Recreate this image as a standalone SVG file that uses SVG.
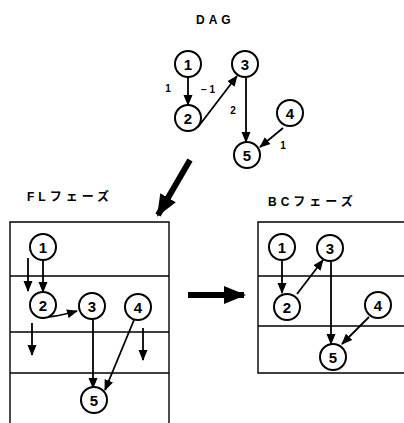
<svg xmlns="http://www.w3.org/2000/svg" width="404" height="423" viewBox="0 0 404 423">
<style>
.nd circle{fill:#fff;stroke:#000;stroke-width:2}
.nd text{font-family:"Liberation Sans",Arial,sans-serif;font-size:15px;fill:#000;text-anchor:middle;font-weight:bold}
.e{stroke:#000;stroke-width:1.8;fill:none;marker-end:url(#ah)}
.lbl{font-family:"Liberation Sans",Arial,sans-serif;font-size:10px;font-weight:bold;fill:#000;text-anchor:middle}
.ttl{font-family:"Liberation Sans","Noto Sans CJK JP",sans-serif;font-size:12px;font-weight:bold;fill:#000;letter-spacing:4px}
.grid{stroke:#000;stroke-width:1.4;fill:none}
.big{stroke:#000;stroke-width:6;fill:none;marker-end:url(#bh)}
</style>
<defs>
<marker id="ah" markerUnits="userSpaceOnUse" markerWidth="11" markerHeight="10" viewBox="0 0 11 10" refX="10" refY="5" orient="auto">
<path d="M0,0.5 L11,5 L0,9.5 Z" fill="#000"/>
</marker>
<marker id="bh" markerUnits="userSpaceOnUse" markerWidth="22" markerHeight="20" viewBox="0 0 22 20" refX="20" refY="10" orient="auto">
<path d="M0,1 L22,10 L0,19 Z" fill="#000"/>
</marker>
</defs>

<text class="ttl" x="196" y="24">DAG</text>
<text class="ttl" x="27" y="201">FLフェーズ</text>
<text class="ttl" x="268" y="206">BCフェーズ</text>

<g id="grid-fl">
<path class="grid" d="M10,423 V222 H169 V423 M10,276 H169 M10,332 H169 M10,373 H169"/>
</g>
<g id="grid-bc">
<path class="grid" d="M404,222 H258 V373 H404 M258,276 H404 M258,326 H404"/>
</g>

<g id="connectors">
<!-- DAG -->
<path class="e" d="M188,77 V105"/>
<path class="e" d="M198,127 L237,76"/>
<path class="e" d="M246,78 V142"/>
<path class="e" d="M283,128 L260,147"/>
<!-- FL -->
<path class="e" d="M43,261 V292"/>
<path class="e" d="M28,258 V291"/>
<path class="e" d="M45,317 Q56,317 77,311"/>
<path class="e" d="M32,323 V355"/>
<path class="e" d="M93,320 V388"/>
<path class="e" d="M134,320 L105,390"/>
<path class="e" d="M143,328 V360"/>
<!-- BC -->
<path class="e" d="M282,261 V293"/>
<path class="e" d="M297,294 L323,260"/>
<path class="e" d="M331,262 V344"/>
<path class="e" d="M369,317 L342,344"/>
<!-- phase arrows -->
<path class="big" d="M190,160 L158,215"/>
<path class="big" d="M188,295 H244"/>
</g>

<g id="dag-1" class="nd"><circle cx="188" cy="64" r="13"/><text x="188" y="69.5">1</text></g>
<g id="dag-2" class="nd"><circle cx="188" cy="118" r="13"/><text x="188" y="123.5">2</text></g>
<g id="dag-3" class="nd"><circle cx="245" cy="64" r="13"/><text x="245" y="69.5">3</text></g>
<g id="dag-4" class="nd"><circle cx="290" cy="113" r="13"/><text x="290" y="118.5">4</text></g>
<g id="dag-5" class="nd"><circle cx="247" cy="155" r="13"/><text x="247" y="160.5">5</text></g>
<g id="dag-labels">
<text class="lbl" x="168" y="92">1</text>
<text class="lbl" x="208" y="93">− 1</text>
<text class="lbl" x="233" y="114">2</text>
<text class="lbl" x="283" y="149">1</text>
</g>

<g id="fl-1" class="nd"><circle cx="43" cy="247" r="13"/><text x="43" y="252.5">1</text></g>
<g id="fl-2" class="nd"><circle cx="43" cy="305" r="13"/><text x="43" y="310.5">2</text></g>
<g id="fl-3" class="nd"><circle cx="92" cy="306" r="13"/><text x="92" y="311.5">3</text></g>
<g id="fl-4" class="nd"><circle cx="138" cy="307" r="13"/><text x="138" y="312.5">4</text></g>
<g id="fl-5" class="nd"><circle cx="94" cy="400" r="13"/><text x="94" y="405.5">5</text></g>

<g id="bc-1" class="nd"><circle cx="282" cy="247" r="13"/><text x="282" y="252.5">1</text></g>
<g id="bc-3" class="nd"><circle cx="330" cy="248" r="13"/><text x="330" y="253.5">3</text></g>
<g id="bc-2" class="nd"><circle cx="287" cy="307" r="13"/><text x="287" y="312.5">2</text></g>
<g id="bc-4" class="nd"><circle cx="378" cy="305" r="13"/><text x="378" y="310.5">4</text></g>
<g id="bc-5" class="nd"><circle cx="333" cy="357" r="13"/><text x="333" y="362.5">5</text></g>
</svg>
